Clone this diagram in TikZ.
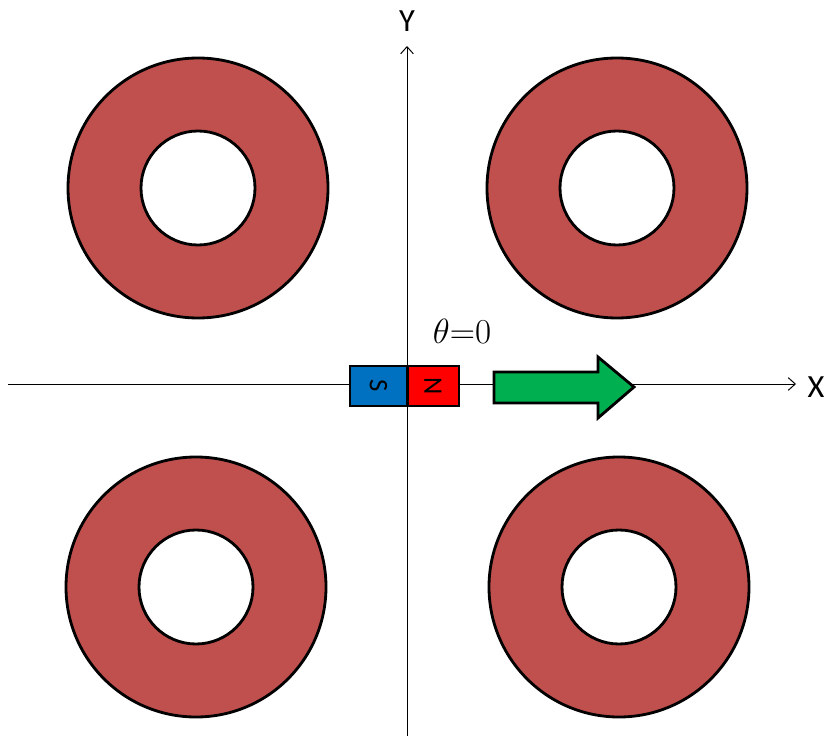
\documentclass[tikz,border=0pt]{standalone}
\usepackage{fontspec}
\newfontfamily\axfont{Carlito}
\usetikzlibrary{arrows.meta}
\definecolor{ringred}{RGB}{192,80,77}
\definecolor{sblue}{RGB}{0,112,192}
\definecolor{ngreen}{RGB}{0,176,80}
\begin{document}
\begin{tikzpicture}[x=0.025cm, y=-0.025cm,
        axis/.style={line width=0.7pt, -{Straight Barb[length=5pt,width=9pt]}},
        ring/.style={fill=ringred, draw=black, line width=2pt, even odd rule},
        pole/.style={draw=black, line width=2pt, minimum width=57*0.025cm,
                     minimum height=40*0.025cm, inner sep=0pt, anchor=center,
                     font=\axfont\fontsize{19}{19}\selectfont}]
        \useasboundingbox (0,0) rectangle (830,736);
        % axes
        \coordinate (xl) at (8,384);
        \coordinate (xr) at (796,384);
        \coordinate (yb) at (407,736);
        \coordinate (yt) at (407,46);
        \draw[axis] (xl) -- (xr);
        \draw[axis] (yb) -- (yt);
        \node[font=\axfont\fontsize{23}{23}\selectfont] (ylab) at (407,21) {Y};
        \node[font=\axfont\fontsize{23}{23}\selectfont] (xlab) at (816,387) {X};
        % rings
        \foreach \cx/\cy in {198/188, 617/188, 196/587, 619/587}
            \path[ring] (\cx,\cy) circle[radius=130] (\cx,\cy) circle[radius=57];
        % magnet
        \node[pole, fill=sblue, minimum width=57*0.025cm] (spole) at (378.5,386)
            {\rotatebox{-90}{S}};
        \node[pole, fill=red, minimum width=52*0.025cm] (npole) at (433,386)
            {\rotatebox{-90}{N}};
        \draw[line width=0.8pt] (spole.north east) -- (spole.south east);
        \node[font=\fontsize{25}{25}\selectfont] (theta) at (462,331) {$\theta{=}0$};
        % direction arrow
        \draw[fill=ngreen, line width=2pt, line join=miter]
            (494,372) -- (598,372) -- (598,357) -- (634,387) -- (598,418)
            -- (598,403) -- (494,403) -- cycle;
    \end{tikzpicture}
\end{document}
